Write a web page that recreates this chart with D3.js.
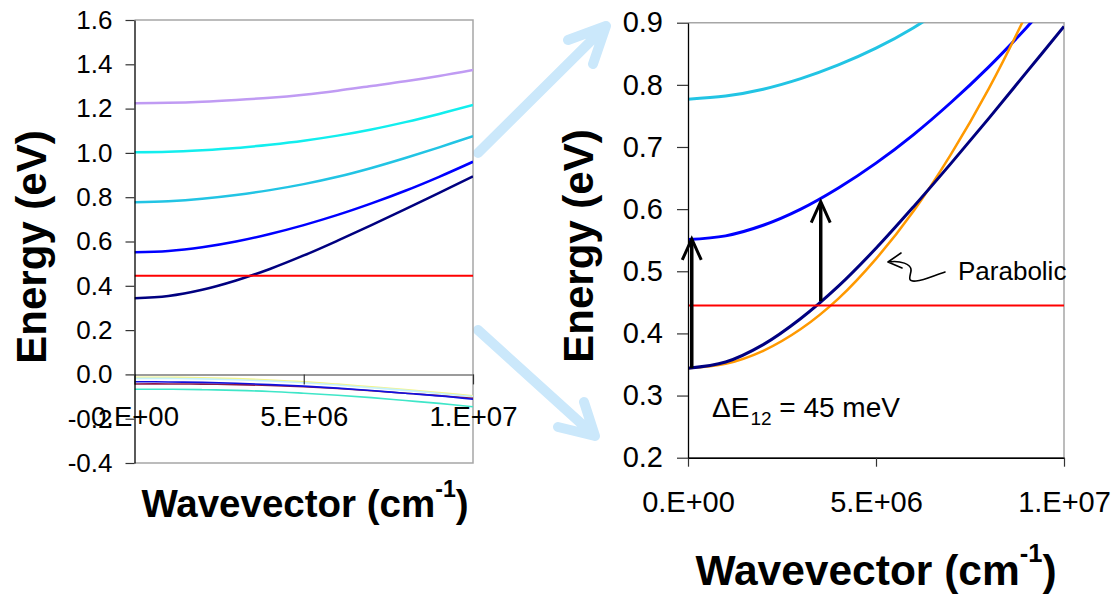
<!DOCTYPE html>
<html><head><meta charset="utf-8">
<script src="https://cdn.jsdelivr.net/npm/d3@7"></script>
<style>body{margin:0;background:#fff}svg{display:block;font-family:"Liberation Sans",Arial,Helvetica,sans-serif}</style>
</head><body>
<script>
// ---------------- data ----------------
const wavevector = [0, 1e6, 2e6, 3e6, 4e6, 5e6, 6e6, 7e6, 8e6, 9e6, 1e7];
const band1 = [0.344, 0.354, 0.382, 0.424, 0.476, 0.537, 0.604, 0.674, 0.746, 0.820, 0.894];
const band2 = [0.551, 0.557, 0.574, 0.600, 0.634, 0.674, 0.720, 0.772, 0.829, 0.892, 0.960];
const band3 = [0.777, 0.782, 0.793, 0.810, 0.832, 0.859, 0.892, 0.932, 0.977, 1.025, 1.076];
const band4 = [1.003, 1.005, 1.012, 1.022, 1.037, 1.055, 1.078, 1.106, 1.139, 1.176, 1.216];
const band5 = [1.224, 1.226, 1.231, 1.239, 1.249, 1.263, 1.281, 1.302, 1.323, 1.347, 1.374];
const parabolic = [0.344, 0.351, 0.372, 0.407, 0.456, 0.520, 0.597, 0.689, 0.794, 0.914, 1.047];
const valence1 = [-0.013, -0.013, -0.015, -0.019, -0.025, -0.033, -0.044, -0.056, -0.068, -0.082, -0.097];
const valence2 = [-0.018, -0.018, -0.020, -0.024, -0.030, -0.038, -0.048, -0.060, -0.072, -0.086, -0.100];
const valence3 = [-0.043, -0.043, -0.044, -0.046, -0.050, -0.056, -0.064, -0.074, -0.085, -0.096, -0.108];
const valence4 = [-0.033, -0.034, -0.036, -0.040, -0.046, -0.053, -0.062, -0.073, -0.085, -0.097, -0.112];
const valence5 = [-0.067, -0.067, -0.069, -0.072, -0.077, -0.085, -0.094, -0.105, -0.118, -0.131, -0.146];
const fermiLevel = 0.445;
const transitions = [
  {k: 0.1e6, from: 0.344, to: 0.552},
  {k: 3.53e6, from: 0.452, to: 0.612}
];
const leftYTicks = [-0.4, -0.2, 0, 0.2, 0.4, 0.6, 0.8, 1.0, 1.2, 1.4, 1.6];
const rightYTicks = [0.2, 0.3, 0.4, 0.5, 0.6, 0.7, 0.8, 0.9];
const xTickValues = [0, 5e6, 1e7];
const xTickLabels = ["0.E+00", "5.E+06", "1.E+07"];

// ---------------- drawing ----------------
const svg = d3.select("body").append("svg").attr("width", 1117).attr("height", 597);

// big light-blue zoom arrows
const bigArrow = svg.append("g").attr("fill", "none").attr("stroke", "#cbe8fb")
  .attr("stroke-width", 10).attr("stroke-linecap", "round").attr("stroke-linejoin", "round");
bigArrow.append("path").attr("d", "M478,153 L606,26 M568,40 L606,26 L593,64");
bigArrow.append("path").attr("d", "M478,330 L595,436 M558,427 L595,436 L584,402");

function series(values) { return wavevector.map((k, i) => ({k, v: values[i]})); }

function panel(cfg) {
  const x = d3.scaleLinear([0, 1e7], cfg.xr);
  const y = d3.scaleLinear(cfg.yd, cfg.yr);
  const g = svg.append("g");
  const id = "clip" + cfg.name;
  svg.append("defs").append("clipPath").attr("id", id).append("rect")
    .attr("x", cfg.xr[0]).attr("y", cfg.yr[1]).attr("width", cfg.xr[1] - cfg.xr[0]).attr("height", cfg.yr[0] - cfg.yr[1]);
  g.append("path").attr("fill", "none").attr("stroke", "#a6a6a6").attr("stroke-width", 1.5)
    .attr("d", `M${cfg.xr[0]},${cfg.yr[1]} H${cfg.xr[1]} V${cfg.yr[0]} H${cfg.xr[0]}`);
  const lines = g.append("g").attr("clip-path", `url(#${id})`).attr("fill", "none");
  const line = d3.line().x(d => x(d.k)).y(d => y(d.v)).curve(d3.curveCatmullRom.alpha(0.5));
  cfg.series.forEach(s => {
    lines.append("path").datum(series(s.values)).attr("d", line)
      .attr("stroke", s.color).attr("stroke-width", s.width).attr("stroke-linejoin", "round");
  });
  lines.append("line").attr("x1", x(0)).attr("x2", x(1e7)).attr("y1", y(fermiLevel)).attr("y2", y(fermiLevel))
    .attr("stroke", "#ff0000").attr("stroke-width", 2);

  const ya = g.append("g").attr("transform", `translate(${cfg.xr[0]},0)`)
    .call(d3.axisLeft(y).tickValues(cfg.yTicks).tickFormat(d => d.toFixed(1))
      .tickSize(cfg.yTickSize).tickPadding(cfg.yPad).tickSizeOuter(0));
  ya.select(".domain").attr("stroke", "#000").attr("stroke-width", 1.3);
  ya.selectAll(".tick line").attr("stroke", "#333").attr("stroke-width", 1.2);
  ya.selectAll("text").attr("font-size", cfg.yFont).attr("fill", "#000").attr("font-family", null);

  const xa = g.append("g").attr("transform", `translate(0,${y(cfg.xAxisAt)})`)
    .call(d3.axisBottom(x).tickValues(xTickValues).tickFormat((d, i) => xTickLabels[i])
      .tickSize(cfg.xTickSize).tickPadding(cfg.xPad).tickSizeOuter(0));
  xa.select(".domain").attr("stroke", cfg.xAxisColor).attr("stroke-width", 1.5);
  xa.selectAll(".tick line").attr("stroke", "#333").attr("stroke-width", 1.2);
  xa.selectAll("text").attr("font-size", cfg.xFont).attr("fill", "#000").attr("font-family", null);
  ya.raise();
  return {x, y, g};
}

const left = panel({
  name: "L", xr: [134.5, 473], yd: [-0.4, 1.6], yr: [463, 20],
  yTicks: leftYTicks, yTickSize: 9, yPad: 13, yFont: 26,
  xAxisAt: 0, xTickSize: 10, xPad: 22, xFont: 27.5, xAxisColor: "#7a7a7a",
  series: [
    {values: valence1, color: "#f4f48a", width: 1.6},
    {values: valence2, color: "#c4f0fb", width: 1.6},
    {values: valence5, color: "#3fe6c8", width: 1.6},
    {values: valence3, color: "#8b1a4a", width: 1.6},
    {values: valence4, color: "#1010e0", width: 1.6},
    {values: band5, color: "#c09bf3", width: 2.5},
    {values: band4, color: "#12eeee", width: 2.5},
    {values: band3, color: "#22c4e4", width: 2.5},
    {values: band2, color: "#0000ff", width: 2.5},
    {values: band1, color: "#000080", width: 2.5}
  ]
});

const right = panel({
  name: "R", xr: [688, 1064], yd: [0.2, 0.9], yr: [457.7, 22.7],
  yTicks: rightYTicks, yTickSize: 11, yPad: 14, yFont: 29,
  xAxisAt: 0.2, xTickSize: 9, xPad: 25, xFont: 29, xAxisColor: "#000",
  series: [
    {values: band5, color: "#c09bf3", width: 3},
    {values: band4, color: "#12eeee", width: 3},
    {values: band3, color: "#22c4e4", width: 3},
    {values: band2, color: "#0000ff", width: 3},
    {values: parabolic, color: "#ff9900", width: 2.5},
    {values: band1, color: "#000080", width: 3}
  ]
});

// transition arrows on the right panel
const arr = svg.append("g").attr("fill", "none").attr("stroke", "#000").attr("stroke-width", 3.5);
transitions.forEach(t => {
  const xx = right.x(t.k), y0 = right.y(t.from), y1 = right.y(t.to);
  arr.append("line").attr("x1", xx).attr("x2", xx).attr("y1", y0).attr("y2", y1 + 1);
  arr.append("path").attr("stroke-width", 3).attr("d", `M${xx - 9.5},${y1 + 21} L${xx},${y1} L${xx + 9.5},${y1 + 21}`);
});

// "Parabolic" pointer
svg.append("path").attr("fill", "none").attr("stroke", "#000").attr("stroke-width", 1.6)
  .attr("stroke-linecap", "round").attr("stroke-linejoin", "round")
  .attr("d", "M901,253 L888,262 L902,268 M888,262 C900,260 912,264 911,271 C910,277 907,282 916,281 C925,280 935,275 945,272");
svg.append("text").attr("x", 958).attr("y", 280).attr("font-size", 26).text("Parabolic");

// ΔE12 label
const de = svg.append("text").attr("x", 712).attr("y", 417).attr("font-size", 28);
de.append("tspan").text("\u0394E");
de.append("tspan").attr("font-size", 19).attr("dy", 8).attr("dx", 1).text("12");
de.append("tspan").attr("dy", -8).text(" = 45 meV");

// axis titles
function yTitle(x, y) {
  svg.append("text").attr("transform", `translate(${x},${y}) rotate(-90)`)
    .attr("text-anchor", "middle").attr("font-size", 42).attr("font-weight", "bold").text("Energy (eV)");
}
yTitle(46, 247);
yTitle(593, 246);

function xTitle(x, y, fs) {
  const t = svg.append("text").attr("x", x).attr("y", y).attr("text-anchor", "middle")
    .attr("font-size", fs).attr("font-weight", "bold");
  const up = fs * 0.53;
  t.append("tspan").text("Wavevector (cm");
  t.append("tspan").attr("font-size", fs * 0.6).attr("dy", -up).text("-1");
  t.append("tspan").attr("dy", up).text(")");
}
xTitle(305, 517, 38.5);
xTitle(876, 585, 42.5);
</script>
</body></html>
